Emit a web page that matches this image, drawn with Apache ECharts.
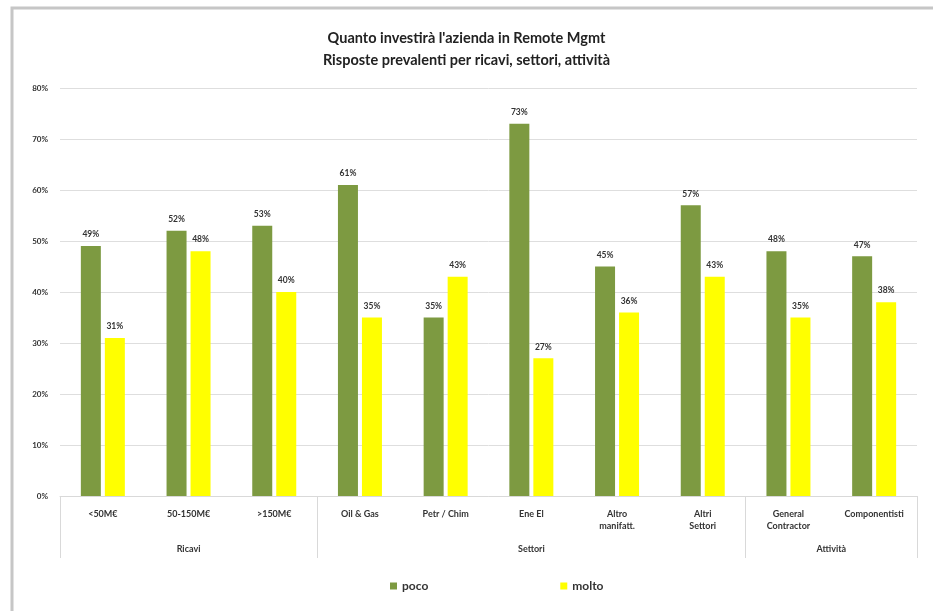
<!DOCTYPE html>
<html><head><meta charset="utf-8">
<script src="https://cdn.jsdelivr.net/npm/echarts@6/dist/echarts.min.js"></script>
<style>html,body{margin:0;padding:0;background:#fff}#c{width:933px;height:611px}</style>
</head><body><div id="c"></div>
<script>
const categories = ['<50M€','50-150M€','>150M€','Oil & Gas','Petr / Chim','Ene El','Altro\nmanifatt.','Altri\nSettori','General\nContractor','Componentisti'];
const poco = [49,52,53,61,35,73,45,57,48,47];
const molto = [31,48,40,35,43,27,36,43,35,38];
const groupNames = ['Ricavi','Settori','Attività'];
const groupSizes = [3,5,2];
const yTicks = [0,10,20,30,40,50,60,70,80];
const seriesNames = ['poco','molto'];

const bounds=[0]; groupSizes.forEach(s=>bounds.push(bounds[bounds.length-1]+s));
const centers=groupNames.map((g,i)=>(bounds[i]+bounds[i+1])/2);

const FONT='Lato';
const chart=echarts.init(document.getElementById('c'));
chart.setOption({
  animation:false,
  textStyle:{fontFamily:FONT},
  title:{text:"Quanto investirà l'azienda in Remote Mgmt\nRisposte prevalenti per ricavi, settori, attività",left:'center',top:22,
    textStyle:{fontFamily:FONT,fontSize:14.5,fontWeight:'bold',color:'#222',lineHeight:22}},
  graphic:[{type:'rect',shape:{x:12,y:8,width:1000,height:800},style:{fill:'none',stroke:'#c6c6c6',lineWidth:3},silent:true,z:-1}],
  legend:{data:seriesNames,bottom:14,left:385,itemWidth:7,itemHeight:7,itemGap:132,icon:'rect',
    textStyle:{fontFamily:FONT,fontSize:12,fontWeight:'bold',color:'#333'}},
  grid:{left:60,right:16,top:88,bottom:115,containLabel:false},
  xAxis:[{type:'category',data:categories,
    axisLine:{lineStyle:{color:'#d9d9d9'}},axisTick:{show:false},
    axisLabel:{interval:0,fontFamily:FONT,fontSize:9,fontWeight:'bold',color:'#333',margin:12,lineHeight:12}},
   {type:'value',min:0,max:categories.length,position:'bottom',
    axisLine:{show:false},splitLine:{show:false},
    axisTick:{show:true,customValues:bounds,length:62,lineStyle:{color:'#d9d9d9'}},
    axisLabel:{customValues:centers,margin:49,fontFamily:FONT,fontSize:9,fontWeight:'bold',color:'#333',
      formatter:v=>{const i=centers.indexOf(v);return i>=0?groupNames[i]:'';}}}],
  yAxis:{type:'value',min:0,max:80,interval:10,
    axisLine:{show:false},axisTick:{show:false},
    splitLine:{lineStyle:{color:'#dedede'}},
    axisLabel:{fontFamily:FONT,fontSize:8,fontWeight:'bold',color:'#333',margin:12,formatter:v=>yTicks.includes(v)?v+'%':''}},
  series:[
    {name:seriesNames[0],type:'bar',data:poco,barWidth:20,barGap:'20%',itemStyle:{color:'#7d9a41'},
     label:{show:true,position:'top',distance:7,formatter:'{c}%',fontFamily:FONT,fontSize:8.5,fontWeight:'bold',color:'#333'}},
    {name:seriesNames[1],type:'bar',data:molto,barWidth:20,itemStyle:{color:'#ffff00'},
     label:{show:true,position:'top',distance:7,formatter:'{c}%',fontFamily:FONT,fontSize:8.5,fontWeight:'bold',color:'#333'}}
  ]
});
</script></body></html>
